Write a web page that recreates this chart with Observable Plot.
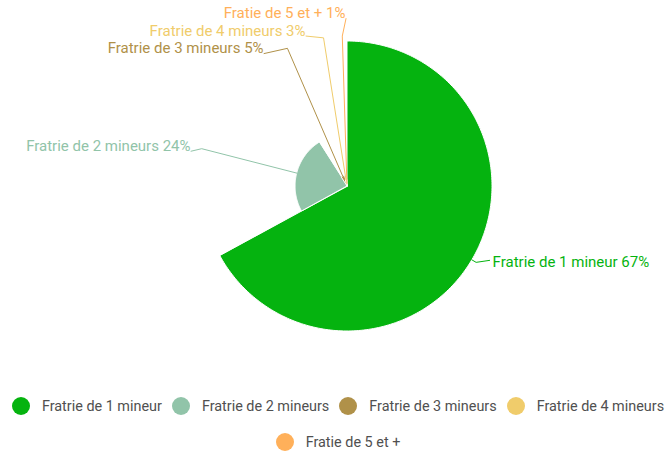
<!DOCTYPE html>
<html>
<head>
<meta charset="utf-8">
<script src="https://cdn.jsdelivr.net/npm/d3@7"></script>
<script src="https://cdn.jsdelivr.net/npm/@observablehq/plot@0.6"></script>
<style>
  body { margin: 0; background: #fff; font-family: Roboto, "Noto Sans", sans-serif; }
  #chart svg { display: block; }
  #legend { width: 668px; padding: 16px 0 0 4px; display: flex; flex-wrap: wrap; justify-content: center; }
  .item { display: flex; align-items: center; height: 36px; margin: 0 5px; font-size: 14.4px; color: #505050; white-space: nowrap; }
  .dot { width: 18px; height: 18px; border-radius: 50%; margin-right: 12px; flex: none; }
</style>
</head>
<body>
<div id="chart"></div>
<div id="legend"></div>
<script>
// ---- data ----
const categories = ["Fratrie de 1 mineur", "Fratrie de 2 mineurs", "Fratrie de 3 mineurs", "Fratrie de 4 mineurs", "Fratie de 5 et +"];
const values = [67, 24, 5, 3, 1];
const labelTexts = ["Fratrie de 1 mineur 67%", "Fratrie de 2 mineurs 24%", "Fratrie de 3 mineurs 5%", "Fratrie de 4 mineurs 3%", "Fratie de 5 et + 1%"];
const colors = ["#05b30f", "#91c4a9", "#b09149", "#f0cc6b", "#ffb05a"];

// ---- layout ----
const W = 672, H = 372;
const cx = 346.5, cy = 185.5;
const maxR = 145;          // radius of largest slice (radius proportional to value)
const elbowR = 150;        // connector break radius
const labelR = 160;        // label circle radius
const spacing = 17.5;      // min vertical spacing between labels
const total = d3.sum(values);
const k = maxR / d3.max(values);
const pt = (a, r) => ({x: cx + r * Math.sin(a), y: cy - r * Math.cos(a)});

let cum = 0;
const slices = values.map((v, i) => {
  const a0 = cum / total * 2 * Math.PI;
  cum += v;
  const a1 = cum / total * 2 * Math.PI;
  return {i, cat: categories[i], v, a0, a1, mid: (a0 + a1) / 2, r: v * k};
});

// slice polygons
const polys = [];
for (const s of slices) {
  polys.push({cat: s.cat, ...pt(0, 0)});
  const n = Math.max(2, Math.ceil((s.a1 - s.a0) * 180 / Math.PI));
  for (let j = 0; j <= n; j++) {
    const a = s.a0 + (s.a1 - s.a0) * j / n;
    polys.push({cat: s.cat, ...pt(a, s.r)});
  }
}

// label placement
const labs = slices.map(s => {
  const left = Math.sin(s.mid) < 0;
  const rt = left ? 160 : 150;
  return {...s, left, target: cy - rt * Math.cos(s.mid), text: labelTexts[s.i]};
});
function distribute(items) {
  items.sort((a, b) => a.target - b.target);
  let groups = items.map(d => ({m: [d]}));
  let merged = true;
  while (merged) {
    merged = false;
    for (const g of groups) {
      const mean = d3.mean(g.m, d => d.target);
      g.start = mean - (g.m.length - 1) * spacing / 2;
      g.end = g.start + (g.m.length - 1) * spacing;
    }
    for (let j = 0; j < groups.length - 1; j++) {
      if (groups[j + 1].start - groups[j].end < spacing) {
        groups[j].m.push(...groups[j + 1].m);
        groups.splice(j + 1, 1);
        merged = true;
        break;
      }
    }
  }
  for (const g of groups) g.m.forEach((d, q) => d.y = g.start + q * spacing);
}
distribute(labs.filter(d => d.left));
distribute(labs.filter(d => !d.left));
for (const d of labs) {
  const dy = d.y - cy;
  const dx = Math.sqrt(Math.max(0, labelR * labelR - dy * dy));
  d.x = d.left ? cx - dx : cx + dx;
  d.tx = d.left ? d.x - 1.5 : d.x + 5;
}
const conns = [];
for (const d of labs) {
  conns.push({cat: d.cat, ...pt(d.mid, d.r)});
  conns.push({cat: d.cat, ...pt(d.mid, elbowR)});
  conns.push({cat: d.cat, x: d.left ? d.x - 1 : d.x + 2, y: d.left ? d.y + 5 : d.y - 2});
}

const chart = Plot.plot({
  width: W,
  height: H,
  margin: 0,
  x: {domain: [0, W], range: [0, W], axis: null},
  y: {domain: [0, H], range: [0, H], axis: null},
  color: {domain: categories, range: colors},
  style: {fontFamily: "Roboto, sans-serif", background: "#fff"},
  marks: [
    Plot.line(polys, {x: "x", y: "y", z: "cat", fill: "cat", stroke: "#fff", strokeWidth: 1, curve: "linear-closed", strokeLinejoin: "round"}),
    Plot.line(conns, {x: "x", y: "y", z: "cat", stroke: "cat", strokeWidth: 1}),
    Plot.text(labs.filter(d => d.left), {x: "tx", y: "y", text: "text", fill: "cat", textAnchor: "end", fontSize: 15}),
    Plot.text(labs.filter(d => !d.left), {x: "tx", y: "y", text: "text", fill: "cat", textAnchor: "start", fontSize: 15})
  ]
});
document.getElementById("chart").appendChild(chart);

const legend = document.getElementById("legend");
categories.forEach((c, i) => {
  const it = document.createElement("div");
  it.className = "item";
  const dot = document.createElement("span");
  dot.className = "dot";
  dot.style.background = colors[i];
  const t = document.createElement("span");
  t.textContent = c;
  it.appendChild(dot);
  it.appendChild(t);
  legend.appendChild(it);
});
</script>
</body>
</html>
